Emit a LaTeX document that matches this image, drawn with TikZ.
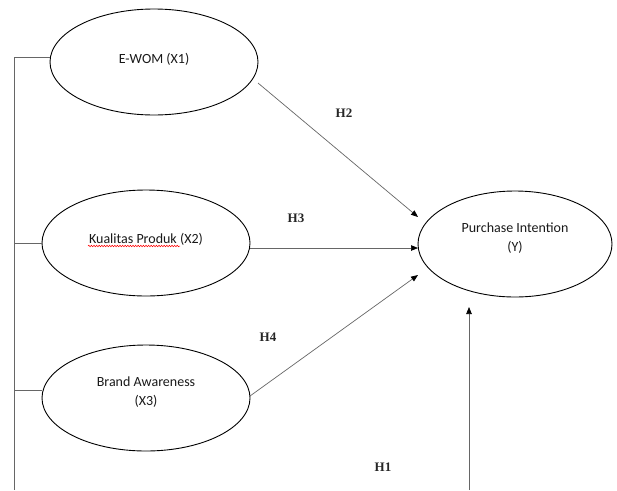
\documentclass[tikz,border=0pt]{standalone}
\usepackage{fontspec}
\setmainfont{Carlito}
\newfontfamily\hfont{Liberation Serif}
\usetikzlibrary{arrows.meta,shapes.geometric,decorations.pathmorphing}
\begin{document}
\begin{tikzpicture}[x=1pt,y=-1pt,
  construct/.style={draw=black,line width=0.9pt,ellipse,minimum width=208pt,minimum height=106pt,inner sep=0pt},
  ctext/.style={align=center,inner sep=0pt,font=\fontsize{14}{19.5}\selectfont,text=black!90},
  link/.style={draw=black!60,line width=0.7pt},
  arr/.style={link,-{Triangle[length=7pt,width=5.5pt,fill=black,color=black]}},
  hyp/.style={font=\hfont\bfseries\fontsize{13}{15}\selectfont,text=black!85}]
\useasboundingbox (0,0) rectangle (617,490);
\node[construct] (x1) at (154,62) {};
\node[construct] (x2) at (146,243) {};
\node[construct] (x3) at (146,398) {};
\node[construct,minimum width=194pt] (y) at (515,244) {};
\node[ctext] (t1) at (154,59) {E-WOM (X1)};
\node[ctext] (t2) at (146,239) {Kualitas Produk (X2)};
\node[ctext] (t3) at (146,392) {Brand Awareness\\(X3)};
\node[ctext] (t4) at (515,238) {Purchase Intention\\(Y)};
\coordinate (sq1) at (88,246);
\coordinate (sq2) at (180,246);
\draw[red,line width=0.5pt,decorate,decoration={snake,segment length=2.6pt,amplitude=0.8pt}] (sq1) -- (sq2);
% left bracket line
\coordinate (lt) at (14,57);
\coordinate (lb) at (14,490);
\draw[link] (lt) -- (lb);
\draw[link] (lt) -- (x1.west |- lt);
\draw[link] (14,243) -- (x2.west);
\draw[link] (14,390) -- (x3.west |- 0,390);
% arrows
\coordinate (h2s) at (258,83);
\coordinate (h2e) at (418,217);
\draw[arr] (h2s) -- (h2e);
\coordinate (h3e) at (418,248);
\draw[arr] (x2.east |- h3e) -- (h3e);
\coordinate (h4s) at (250,396);
\coordinate (h4e) at (418,275);
\draw[arr] (h4s) -- (h4e);
\coordinate (h1s) at (469,490);
\coordinate (h1e) at (469,307);
\draw[arr] (h1s) -- (h1e);
% labels
\node[hyp] (l2) at (344,113) {H2};
\node[hyp] (l3) at (296,218) {H3};
\node[hyp] (l4) at (268,337) {H4};
\node[hyp] (l1) at (383,467) {H1};
\end{tikzpicture}
\end{document}
